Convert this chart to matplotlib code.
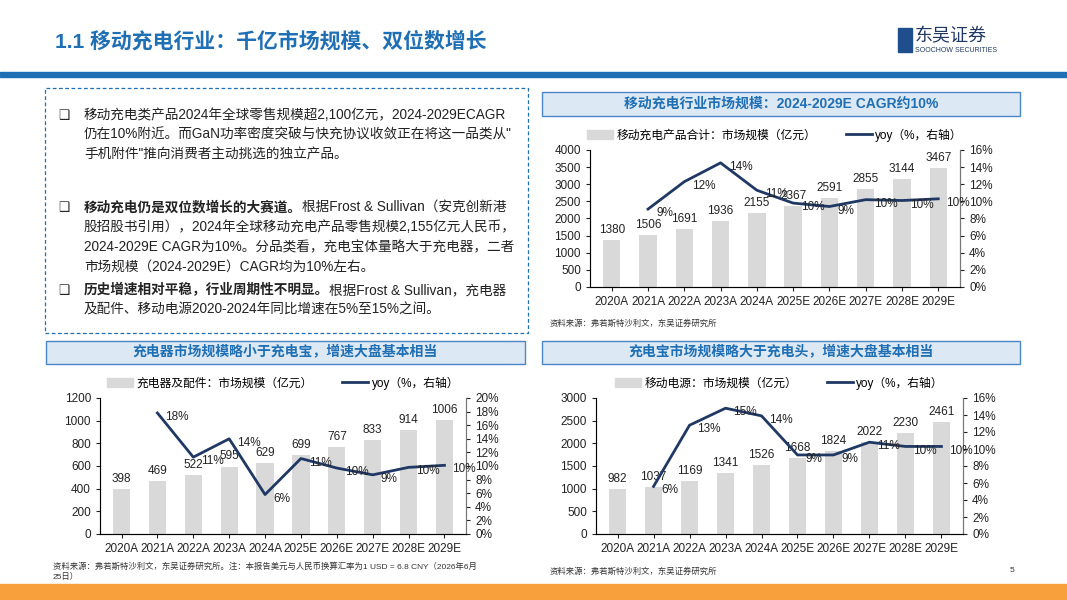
import matplotlib.pyplot as plt
from matplotlib.patches import Rectangle
from matplotlib.lines import Line2D
import numpy as np

plt.rcParams['font.family'] = ['Liberation Sans', 'Noto Sans CJK SC', 'DejaVu Sans']

years = ['2020A', '2021A', '2022A', '2023A', '2024A', '2025E', '2026E', '2027E', '2028E', '2029E']

# top right: total mobile charging
total_vals = [1380, 1506, 1691, 1936, 2155, 2367, 2591, 2855, 3144, 3467]
total_yoy = [None, 9.1, 12.3, 14.5, 11.3, 9.8, 9.4, 10.2, 10.1, 10.3]
total_yoy_lbl = ['', '9%', '12%', '14%', '11%', '10%', '9%', '10%', '10%', '10%']

# bottom left: chargers & accessories
charger_vals = [398, 469, 522, 595, 629, 699, 767, 833, 914, 1006]
charger_yoy = [None, 17.8, 11.3, 14.0, 5.8, 11.1, 9.7, 8.7, 9.8, 10.1]
charger_yoy_lbl = ['', '18%', '11%', '14%', '6%', '11%', '10%', '9%', '10%', '10%']

# bottom right: power banks
bank_vals = [982, 1037, 1169, 1341, 1526, 1668, 1824, 2022, 2230, 2461]
bank_yoy = [None, 5.6, 12.8, 14.8, 13.9, 9.3, 9.3, 10.8, 10.3, 10.3]
bank_yoy_lbl = ['', '6%', '13%', '15%', '14%', '9%', '9%', '11%', '10%', '10%']

W, H = 1067, 600
BLUE = '#1f6fb5'
NAVY = '#1f3864'
GRAY = '#d9d9d9'

fig = plt.figure(figsize=(W / 100, H / 100), dpi=100)


def fx(x):
    return x / W


def fy(y):
    return 1 - y / H


def px_axes(x0, y0, x1, y1):
    return fig.add_axes([fx(x0), fy(y1), fx(x1 - x0), (y1 - y0) / H])


# header
fig.text(fx(55), fy(41), '1.1 移动充电行业：千亿市场规模、双位数增长', fontsize=15,
         fontweight='bold', color=BLUE, va='center')
fig.patches.append(Rectangle((0, fy(77)), 1, 5 / H, transform=fig.transFigure,
                             color=BLUE, zorder=5))
fig.patches.append(Rectangle((fx(898), fy(52)), 14 / W, 24 / H, transform=fig.transFigure,
                             color='#1f4e8c'))
fig.text(fx(915), fy(37), '东吴证券', fontsize=13, color='#1f3864', va='center')
fig.text(fx(915), fy(51), 'SOOCHOW SECURITIES', fontsize=5, color='#1f3864', va='center')

# footer
fig.patches.append(Rectangle((0, 0), 1, 16 / H, transform=fig.transFigure, color='#f7a03c'))
fig.text(fx(1010), fy(570), '5', fontsize=6, color='#333333', va='center')

# text box
fig.patches.append(Rectangle((fx(45), fy(333)), fx(483), 245 / H, transform=fig.transFigure,
                             fill=False, ls=(0, (3, 2)), ec=BLUE, lw=0.9))

renderer = fig.canvas.get_renderer()
fs = 9.8


def rich_line(x, y, parts):
    xx = fx(x)
    for txt, bold in parts:
        t = fig.text(xx, fy(y), txt, fontsize=fs, fontweight='bold' if bold else 'normal',
                     color='#222222', va='center')
        bb = t.get_window_extent(renderer)
        xx += bb.width / W


bullets = [
    (115, [[('移动充电类产品2024年全球零售规模超2,100亿元，2024-2029ECAGR', False)],
           [('仍在10%附近。而GaN功率密度突破与快充协议收敛正在将这一品类从"', False)],
           [('手机附件"推向消费者主动挑选的独立产品。', False)]]),
    (207, [[('移动充电仍是双位数增长的大赛道。', True), ('根据Frost & Sullivan（安克创新港', False)],
           [('股招股书引用），2024年全球移动充电产品零售规模2,155亿元人民币，', False)],
           [('2024-2029E CAGR为10%。分品类看，充电宝体量略大于充电器，二者', False)],
           [('市场规模（2024-2029E）CAGR均为10%左右。', False)]]),
    (290, [[('历史增速相对平稳，行业周期性不明显。', True), ('根据Frost & Sullivan，充电器', False)],
           [('及配件、移动电源2020-2024年同比增速在5%至15%之间。', False)]]),
]
for y0, lines in bullets:
    fig.text(fx(58), fy(y0), '❑', fontsize=9, family=['DejaVu Sans'], va='center', color='#222222')
    for i, parts in enumerate(lines):
        rich_line(84, y0 + i * 20, parts)


def header_box(x0, y0, x1, y1, txt):
    fig.patches.append(Rectangle((fx(x0), fy(y1)), fx(x1 - x0), (y1 - y0) / H,
                                 transform=fig.transFigure, fc='#dde8f5', ec='#4a86c5', lw=1))
    fig.text(fx((x0 + x1) / 2), fy((y0 + y1) / 2), txt, fontsize=10, fontweight='bold',
             color=BLUE, ha='center', va='center')


def chart(box, vals, yoy, yoy_lbl, ymax, ystep, rmax, rstep, bar_label, leg_y):
    ax = px_axes(*box)
    x = np.arange(len(years))
    ax.bar(x, vals, width=0.48, color=GRAY, zorder=1)
    for xi, v in zip(x, vals):
        ax.text(xi, v + ymax * 0.03, str(v), ha='center', va='bottom', fontsize=8.5, color='#222222',
                zorder=5)
    ax.set_ylim(0, ymax)
    ax.set_yticks(np.arange(0, ymax + 1, ystep))
    ax.set_xlim(-0.6, len(years) - 0.4)
    ax.set_xticks(x)
    ax.set_xticklabels(years)
    ax.tick_params(labelsize=8.5, length=3, colors='#222222')
    for s in ['left', 'bottom', 'right']:
        ax.spines[s].set_color('#777777')
    ax.spines['top'].set_visible(False)
    ax2 = ax.twinx()
    ax2.plot(x[1:], yoy[1:], color=NAVY, lw=2, zorder=3)
    for xi, v, l in zip(x[1:], yoy[1:], yoy_lbl[1:]):
        ax2.text(xi + 0.22, v - rmax * 0.03, l, fontsize=8.5, color='#222222', va='center')
    ax2.set_ylim(0, rmax)
    ax2.set_yticks(np.arange(0, rmax + 0.1, rstep))
    ax2.set_yticklabels([f'{int(t)}%' for t in np.arange(0, rmax + 0.1, rstep)])
    ax2.tick_params(labelsize=8.5, length=3, colors='#222222')
    ax2.spines['top'].set_visible(False)
    ax2.spines['right'].set_color('#777777')
    handles = [Rectangle((0, 0), 1, 1, color=GRAY), Line2D([0], [0], color=NAVY, lw=2)]
    cx = (box[0] + box[2]) / 2
    fig.legend(handles, [bar_label, 'yoy（%，右轴）'], loc='center', ncol=2, frameon=False,
               bbox_to_anchor=(fx(cx), fy(leg_y)), fontsize=8.5, handlelength=2.2,
               columnspacing=2.5, handletextpad=0.3)


header_box(542, 92, 1020, 116, '移动充电行业市场规模：2024-2029E CAGR约10%')
chart((590, 150, 960, 287), total_vals, total_yoy, total_yoy_lbl, 4000, 500, 16, 2,
      '移动充电产品合计：市场规模（亿元）', 135)
fig.text(fx(550), fy(324), '资料来源：弗若斯特沙利文，东吴证券研究所', fontsize=6, va='center', color='#333333')

header_box(46, 341, 525, 364, '充电器市场规模略小于充电宝，增速大盘基本相当')
chart((100, 398, 466, 534), charger_vals, charger_yoy, charger_yoy_lbl, 1200, 200, 20, 2,
      '充电器及配件：市场规模（亿元）', 383)
fig.text(fx(53), fy(567), '资料来源：弗若斯特沙利文，东吴证券研究所。注：本报告美元与人民币换算汇率为1 USD = 6.8 CNY（2026年6月',
         fontsize=6, va='center', color='#333333')
fig.text(fx(53), fy(577), '25日）', fontsize=6, va='center', color='#333333')

header_box(542, 341, 1020, 364, '充电宝市场规模略大于充电头，增速大盘基本相当')
chart((596, 398, 963, 534), bank_vals, bank_yoy, bank_yoy_lbl, 3000, 500, 16, 2,
      '移动电源：市场规模（亿元）', 383)
fig.text(fx(550), fy(572), '资料来源：弗若斯特沙利文，东吴证券研究所', fontsize=6, va='center', color='#333333')

fig.savefig('out.png', dpi=100)
